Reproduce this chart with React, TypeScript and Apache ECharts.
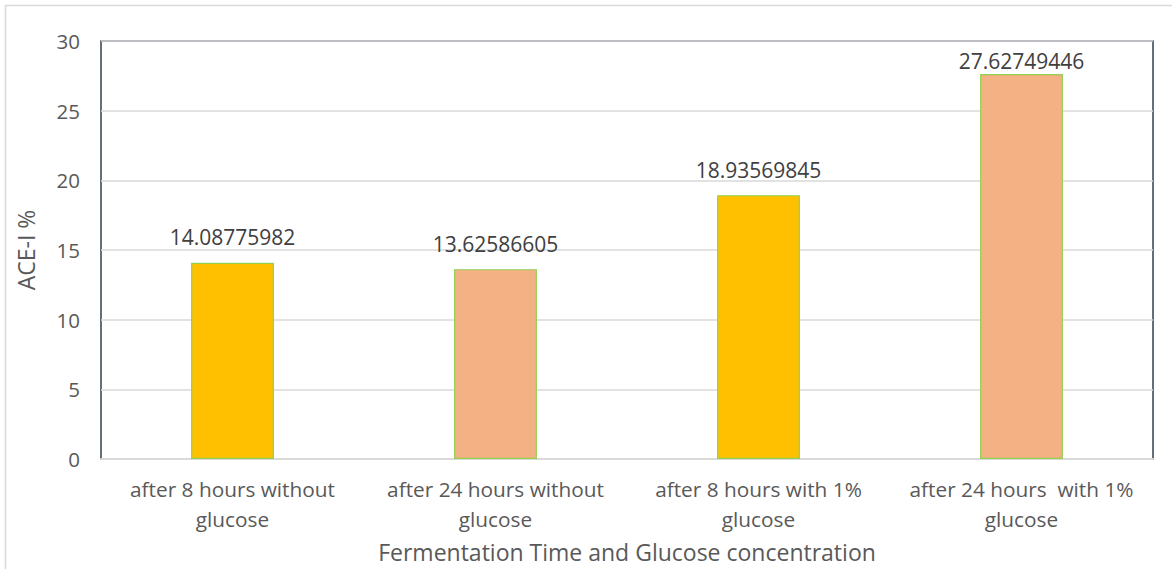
import React, { useEffect, useRef } from "react";
import * as echarts from "echarts";

const categories = [
  "after 8 hours without\nglucose",
  "after 24 hours without\nglucose",
  "after 8 hours with 1%\nglucose",
  "after 24 hours  with 1%\nglucose",
];
const aceValues = [14.08775982, 13.62586605, 18.93569845, 27.62749446];
const barColors = ["#FFC000", "#F4B183", "#FFC000", "#F4B183"];
// the tallest bar's label sits closer to the bar so it stays inside the plot frame
const labelGaps = [15, 15, 15, 3];

const FONT = "'Open Sans', 'Noto Sans', sans-serif";

export default function App() {
  const ref = useRef<HTMLDivElement>(null);

  useEffect(() => {
    if (!ref.current) return;
    const chart = echarts.init(ref.current, null, { renderer: "svg" });
    chart.setOption({
      animation: false,
      backgroundColor: "#FFFFFF",
      textStyle: { fontFamily: FONT },
      graphic: [
        {
          type: "rect",
          shape: { x: 5.5, y: 5.5, width: 1200, height: 700 },
          style: { fill: "none", stroke: "#D9D9D9", lineWidth: 1.5 },
          silent: true,
        },
      ],
      grid: {
        left: 101,
        top: 41,
        right: 19,
        bottom: 110,
        outerBoundsMode: "none",
        containLabel: false,
        show: true,
        borderColor: "#333F50",
        borderWidth: 1.5,
        backgroundColor: "transparent",
      },
      xAxis: {
        type: "category",
        data: categories,
        name: "Fermentation Time and Glucose concentration",
        nameLocation: "middle",
        nameGap: 81,
        nameTextStyle: { fontSize: 23, color: "#595959", fontFamily: FONT },
        axisLine: { show: true, lineStyle: { color: "#D9D9D9", width: 2 } },
        axisTick: { show: false },
        axisLabel: {
          fontSize: 20.8,
          color: "#595959",
          margin: 15,
          lineHeight: 30,
          fontFamily: FONT,
          interval: 0,
        },
      },
      yAxis: {
        type: "value",
        min: 0,
        max: 30,
        interval: 5,
        name: "ACE-I %",
        nameLocation: "middle",
        nameGap: 64,
        nameTextStyle: { fontSize: 23, color: "#595959", fontFamily: FONT },
        axisLine: { show: false },
        axisTick: { show: false },
        axisLabel: { fontSize: 20.5, color: "#595959", margin: 21, fontFamily: FONT },
        splitLine: { lineStyle: { color: "#D9D9D9", width: 1.5 } },
      },
      series: [
        {
          type: "bar",
          barWidth: "31.5%",
          data: aceValues.map((v, i) => ({
            value: v,
            itemStyle: { color: barColors[i] },
            label: { distance: labelGaps[i] },
          })),
          itemStyle: { borderColor: "#92D050", borderWidth: 1.2 },
          label: {
            show: true,
            position: "top",
            fontSize: 21,
            color: "#404040",
            fontFamily: FONT,
            formatter: (p: any) => String(p.value),
          },
        },
      ],
    });
    return () => chart.dispose();
  }, []);

  return (
    <div
      ref={ref}
      style={{ position: "absolute", left: 0, top: 0, width: 1172, height: 569 }}
    />
  );
}
